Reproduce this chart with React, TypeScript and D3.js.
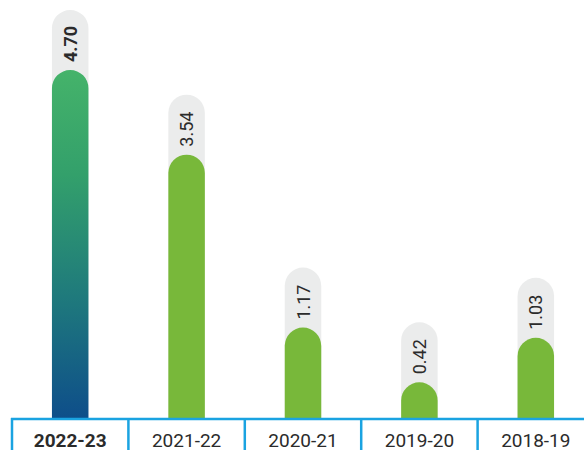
import { useEffect, useRef } from 'react';
import * as d3 from 'd3';

const years = ['2022-23', '2021-22', '2020-21', '2019-20', '2018-19'];
const values = [4.70, 3.54, 1.17, 0.42, 1.03];
const highlighted = ['2022-23'];

const W = 584;
const H = 450;

const App = () => {
  const ref = useRef<SVGSVGElement>(null);

  useEffect(() => {
    const svg = d3.select(ref.current);
    svg.selectAll('*').remove();

    const baseY = 418;
    const x = d3.scaleBand().domain(years).range([12, 594]).padding(0);
    const h = d3.scaleLinear().domain([0, 4.7]).range([5, 348]);
    const barW = 36.5;
    const pillExtra = 60;

    const defs = svg.append('defs');
    const grad = defs.append('linearGradient')
      .attr('id', 'hiGrad')
      .attr('x1', 0).attr('x2', 0).attr('y1', 0).attr('y2', 1);
    grad.append('stop').attr('offset', '0%').attr('stop-color', '#45b36a');
    grad.append('stop').attr('offset', '30%').attr('stop-color', '#33a06b');
    grad.append('stop').attr('offset', '65%').attr('stop-color', '#1f7a7c');
    grad.append('stop').attr('offset', '100%').attr('stop-color', '#0e4e8a');

    const pillPath = (cx: number, top: number, bottom: number) => {
      const r = barW / 2;
      return `M${cx - r},${bottom} L${cx - r},${top + r} A${r},${r} 0 0 1 ${cx + r},${top + r} L${cx + r},${bottom} Z`;
    };

    const g = svg.append('g');
    years.forEach((yr, i) => {
      const cx = (x(yr) as number) + x.bandwidth() / 2;
      const top = baseY - h(values[i]);
      const hi = highlighted.includes(yr);
      g.append('path')
        .attr('d', pillPath(cx, top - pillExtra, baseY))
        .attr('fill', '#ebecec');
      g.append('path')
        .attr('d', pillPath(cx, top, baseY))
        .attr('fill', hi ? 'url(#hiGrad)' : '#78b83a');
      g.append('text')
        .attr('transform', `translate(${cx + 6.5},${top - 8}) rotate(-90)`)
        .attr('text-anchor', 'start')
        .attr('font-family', 'Roboto, sans-serif')
        .attr('font-size', 18)
        .attr('font-weight', hi ? 700 : 400)
        .attr('fill', '#2b2b2b')
        .text(values[i].toFixed(2));
    });

    // axis boxes
    const ax = svg.append('g');
    ax.append('line')
      .attr('x1', 11).attr('x2', W)
      .attr('y1', baseY + 1).attr('y2', baseY + 1)
      .attr('stroke', '#1aa3e1').attr('stroke-width', 2.5);
    years.forEach((yr) => {
      const x0 = x(yr) as number;
      ax.append('line')
        .attr('x1', x0).attr('x2', x0)
        .attr('y1', baseY).attr('y2', H)
        .attr('stroke', '#1aa3e1').attr('stroke-width', 2.5);
      const hi = highlighted.includes(yr);
      ax.append('text')
        .attr('x', x0 + x.bandwidth() / 2)
        .attr('y', 447)
        .attr('text-anchor', 'middle')
        .attr('font-family', 'Roboto, sans-serif')
        .attr('font-size', 19)
        .attr('font-weight', hi ? 700 : 400)
        .attr('fill', '#2b2b2b')
        .text(yr);
    });
  }, []);

  return (
    <svg
      ref={ref}
      width={W}
      height={H}
      style={{ position: 'absolute', left: 0, top: 0, background: 'white' }}
    />
  );
};

export default App;
